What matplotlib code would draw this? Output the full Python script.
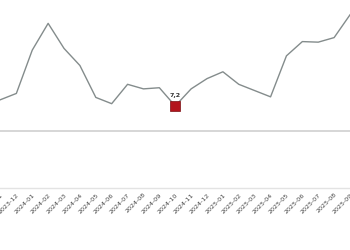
import matplotlib
matplotlib.use("Agg")
import matplotlib.pyplot as plt

# monthly values, 2023-11 .. 2025-09
months = ["2023-11", "2023-12", "2024-01", "2024-02", "2024-03", "2024-04",
          "2024-05", "2024-06", "2024-07", "2024-08", "2024-09", "2024-10",
          "2024-11", "2024-12", "2025-01", "2025-02", "2025-03", "2025-04",
          "2025-05", "2025-06", "2025-07", "2025-08", "2025-09"]
values = [7.75, 8.3, 12.1, 14.45, 12.25, 10.75, 7.95, 7.4, 9.1, 8.7, 8.8, 7.2,
          8.7, 9.6, 10.2, 9.1, 8.55, 8.0, 11.6, 12.85, 12.8, 13.2, 15.2]
highlight = "2024-10"
ref_level = 5.0

x = list(range(len(months)))
hi = months.index(highlight)

fig = plt.figure(figsize=(3.5, 2.5), dpi=100)
ax = fig.add_axes([0, 0.248, 1, 0.752])

ax.axhline(ref_level, color="#d0d0d0", lw=1.2, zorder=1)
ax.plot(x, values, color="#848c8c", lw=1.0, zorder=2)
ax.plot(x[hi], values[hi], marker="s", ms=6.5, color="#b3141c",
        mec="#7a0e12", mew=0.5, zorder=3)
ax.annotate("7,2", (x[hi], values[hi]), xytext=(0, 6), textcoords="offset points",
            ha="center", va="bottom", fontsize=4.5, color="#333333", fontweight="bold")

ax.set_xlim(-0.03, 21.18)
ax.set_ylim(0, 16.5)
ax.set_xticks(x)
ax.set_xticklabels(months, rotation=45, ha="right", va="top",
                   rotation_mode="anchor", fontsize=4.6, color="#444444")
ax.tick_params(axis="x", length=0, pad=3)
ax.set_yticks([])
for s in ["top", "left", "right"]:
    ax.spines[s].set_visible(False)
ax.spines["bottom"].set_color("#e3e3e3")
ax.spines["bottom"].set_linewidth(1)

fig.savefig("out.png", dpi=100)
